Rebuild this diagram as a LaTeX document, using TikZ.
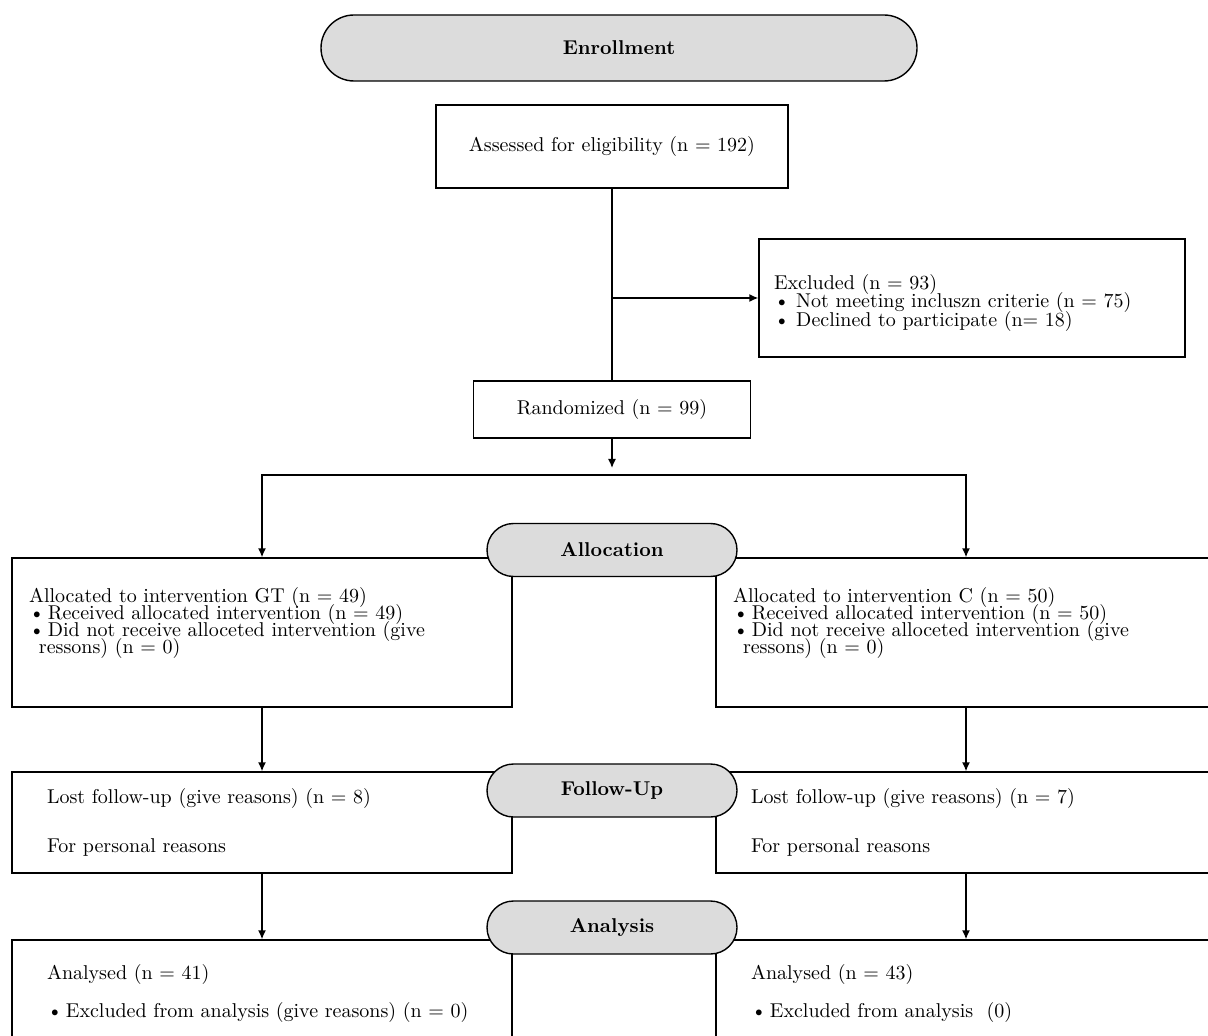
\documentclass[tikz,border=0pt]{standalone}
\usepackage{xcolor}
\usetikzlibrary{arrows.meta}
\usetikzlibrary{shapes.misc}
\definecolor{stagegray}{RGB}{220,220,220}

\begin{document}
\begin{tikzpicture}[x=0.5pt,y=-0.5pt,line width=0.7pt,
  >={Latex[length=4.5pt,width=4pt]},
  stage/.style={rounded rectangle, draw, fill=stagegray, font=\bfseries, inner sep=0pt, minimum width=125pt, minimum height=26.5pt},
  box/.style={draw, inner sep=0pt},
  txt/.style={align=left, inner sep=0pt, font={\fontsize{10pt}{8.5pt}\selectfont\lineskiplimit=-6pt}}]
\clip (0,0) rectangle (1208,1036);

\node[stage, minimum width=298pt, minimum height=33pt] (enrol) at (619,48) {Enrollment};
\node[box, minimum width=176pt, minimum height=41.5pt] (assess) at (612,146.5) {Assessed for eligibility (n = 192)};

\node[box, minimum width=213pt, minimum height=59pt] (excl) at (972,298) {};
\node[txt, anchor=west, font={\fontsize{10pt}{9.2pt}\selectfont\lineskiplimit=-6pt}] (excltxt) at ([xshift=7.5pt,yshift=-2.5pt]excl.west)
  {Excluded (n = 93)\\\textbullet\ Not meeting incluszn criterie (n = 75)\\\textbullet\ Declined to participate (n= 18)};

\node[box, minimum width=138.5pt, minimum height=28.5pt] (rand) at (612,409.5) {Randomized (n = 99)};

\coordinate (split) at (612,298);
\coordinate (randtip) at (612,468);
\coordinate (branch) at (612,475);

% allocation
\node[box, minimum width=250pt, minimum height=74.5pt] (allocL) at (262,632.5) {};
\node[box, minimum width=250pt, minimum height=74.5pt] (allocR) at (966,632.5) {};
\node[txt, anchor=north west] (allocLtxt) at ([xshift=8.5pt,yshift=-14.5pt]allocL.north west)
  {Allocated to intervention GT (n = 49)\\\textbullet\,Received allocated intervention (n = 49)\\\textbullet\,Did not receive alloceted intervention (give\\\hspace*{0.5em}ressons) (n = 0)};
\node[txt, anchor=north west] (allocRtxt) at ([xshift=8.5pt,yshift=-14.5pt]allocR.north west)
  {Allocated to intervention C (n = 50)\\\textbullet\,Received allocated intervention (n = 50)\\\textbullet\,Did not receive alloceted intervention (give\\\hspace*{0.5em}ressons) (n = 0)};

% follow-up
\node[box, minimum width=250pt, minimum height=50.5pt] (followL) at (262,822.5) {};
\node[box, minimum width=250pt, minimum height=50.5pt] (followR) at (966,822.5) {};
\node[txt, anchor=west] (followLtxt) at ([xshift=17.5pt]followL.west)
  {Lost follow-up (give reasons) (n = 8)\\[16pt]For personal reasons};
\node[txt, anchor=west] (followRtxt) at ([xshift=17.5pt]followR.west)
  {Lost follow-up (give reasons) (n = 7)\\[16pt]For personal reasons};

% analysis
\node[box, minimum width=250pt, minimum height=80pt] (anaL) at (262,1020) {};
\node[box, minimum width=250pt, minimum height=80pt] (anaR) at (966,1020) {};
\node[txt, anchor=north west] (anaLtxt) at ([xshift=17.5pt,yshift=-12pt]anaL.north west)
  {Analysed (n = 41)\\[10.5pt]\textbullet\,Excluded from analysis (give reasons) (n = 0)};
\node[txt, anchor=north west] (anaRtxt) at ([xshift=17.5pt,yshift=-12pt]anaR.north west)
  {Analysed (n = 43)\\[10.5pt]\textbullet\,Excluded from analysis~~(0)};

\node[stage] (alloc) at (612,550) {Allocation};
\node[stage] (follow) at (612,790.5) {Follow-Up};
\node[stage] (ana) at (612,927.5) {Analysis};

\draw (assess) -- (rand);
\draw[->] (split) -- (excl);
\draw[->] (rand) -- (randtip);
\draw[->] (branch) -| (allocL);
\draw[->] (branch) -| (allocR);
\draw[->] (allocL) -- (followL);
\draw[->] (allocR) -- (followR);
\draw[->] (followL) -- (anaL);
\draw[->] (followR) -- (anaR);
\end{tikzpicture}
\end{document}
